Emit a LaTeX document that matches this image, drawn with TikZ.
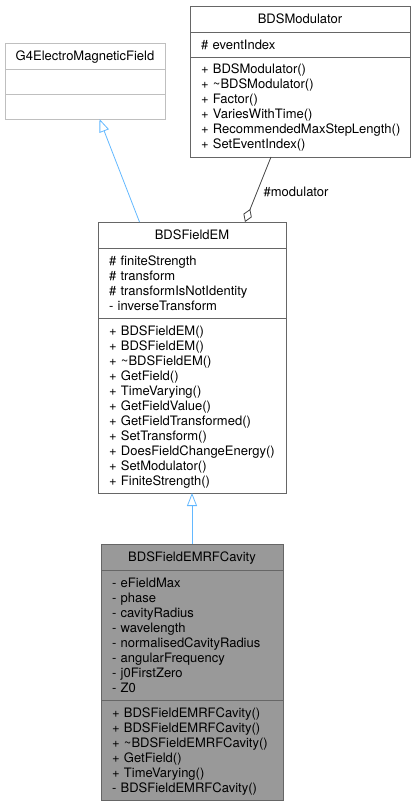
\documentclass[tikz,border=0pt]{standalone}
\usepackage{fontspec}
\setmainfont{TeX Gyre Heros}
\usetikzlibrary{positioning,arrows.meta}
\hyphenpenalty=10000
\exhyphenpenalty=10000
\definecolor{edgegrey}{HTML}{404040}
\definecolor{boxgrey}{HTML}{666666}
\definecolor{extgrey}{HTML}{BFBFBF}
\definecolor{focusgrey}{HTML}{999999}
\definecolor{inheritblue}{HTML}{63B8FF}
\tikzset{umltitle/.style={draw=boxgrey,line width=0.8pt,outer sep=0pt,inner sep=0pt,
           minimum width=#1,minimum height=26pt,text height=12pt,text depth=3pt},
         umlpart/.style={draw=boxgrey,line width=0.8pt,outer sep=0pt,inner xsep=11pt,
           inner ysep=5pt,text width=#1,align=left,text height=12pt},
         inheritline/.style={draw=inheritblue,line width=0.8pt,
           -{Triangle[open,length=13pt,width=10pt]}},
         aggline/.style={draw=edgegrey,line width=0.8pt,
           {Diamond[open,length=14pt,width=9pt]}-}}

\begin{document}
\begin{tikzpicture}[x=1pt,y=-1pt,font=\fontsize{13}{15}\selectfont]
                   \useasboundingbox (0,0) rectangle (416,808);
                   % base class from Geant4
                   \node[umltitle=160pt,draw=extgrey] (g4Title) at (85,56) {G4ElectroMagneticField};
                   \node[umlpart=138pt,draw=extgrey,text depth=3pt] (g4Attr) [below=0pt of g4Title] {};
                   \node[umlpart=138pt,draw=extgrey,text depth=3pt] (g4Ops) [below=0pt of g4Attr] {};
                   % modulator
                   \node[umltitle=220pt] (modTitle) at (300,19) {BDSModulator};
                   \node[umlpart=198pt,text depth=3pt] (modAttr) [below=0pt of modTitle] {\#~eventIndex};
                   \node[umlpart=198pt,text depth=78pt] (modOps) [below=0pt of modAttr]
                        {+~BDSModulator()\\ +~\textasciitilde BDSModulator()\\ +~Factor()\\
                         +~VariesWithTime()\\ +~\mbox{RecommendedMaxStepLength()}\\ +~SetEventIndex()};
                   % field
                   \node[umltitle=188pt] (emTitle) at (192,235) {BDSFieldEM};
                   \node[umlpart=166pt,text depth=48pt] (emAttr) [below=0pt of emTitle]
                        {\#~finiteStrength\\ \#~transform\\ \#~transformIsNotIdentity\\ -~inverseTransform};
                   \node[umlpart=166pt,text depth=153pt] (emOps) [below=0pt of emAttr]
                        {+~BDSFieldEM()\\ +~BDSFieldEM()\\ +~\textasciitilde BDSFieldEM()\\ +~GetField()\\
                         +~TimeVarying()\\ +~GetFieldValue()\\ +~GetFieldTransformed()\\ +~SetTransform()\\
                         +~DoesFieldChangeEnergy()\\ +~SetModulator()\\ +~FiniteStrength()};
                   % rf cavity
                   \node[umltitle=182pt,fill=focusgrey] (cavTitle) [below=51pt of emOps] {BDSFieldEMRFCavity};
                   \node[umlpart=160pt,fill=focusgrey,text depth=108pt] (cavAttr) [below=0pt of cavTitle]
                        {-~eFieldMax\\ -~phase\\ -~cavityRadius\\ -~wavelength\\ -~normalisedCavityRadius\\
                         -~angularFrequency\\ -~j0FirstZero\\ -~Z0};
                   \node[umlpart=160pt,fill=focusgrey,text depth=78pt] (cavOps) [below=0pt of cavAttr]
                        {+~BDSFieldEMRFCavity()\\ +~BDSFieldEMRFCavity()\\ +~\textasciitilde BDSFieldEMRFCavity()\\
                         +~GetField()\\ +~TimeVarying()\\ -~BDSFieldEMRFCavity()};
                    \draw[inheritline] ([xshift=41.5pt]emTitle.north west) -- ([xshift=94.5pt]g4Ops.south west);
                    \draw[inheritline] (cavTitle.north) -- (emOps.south);
                    \draw[aggline] ([xshift=147pt]emTitle.north west) -- ([xshift=81pt]modOps.south west)
                          node[pos=0.47,right=6pt,inner sep=0pt] {\#modulator};
                \end{tikzpicture}
\end{document}
